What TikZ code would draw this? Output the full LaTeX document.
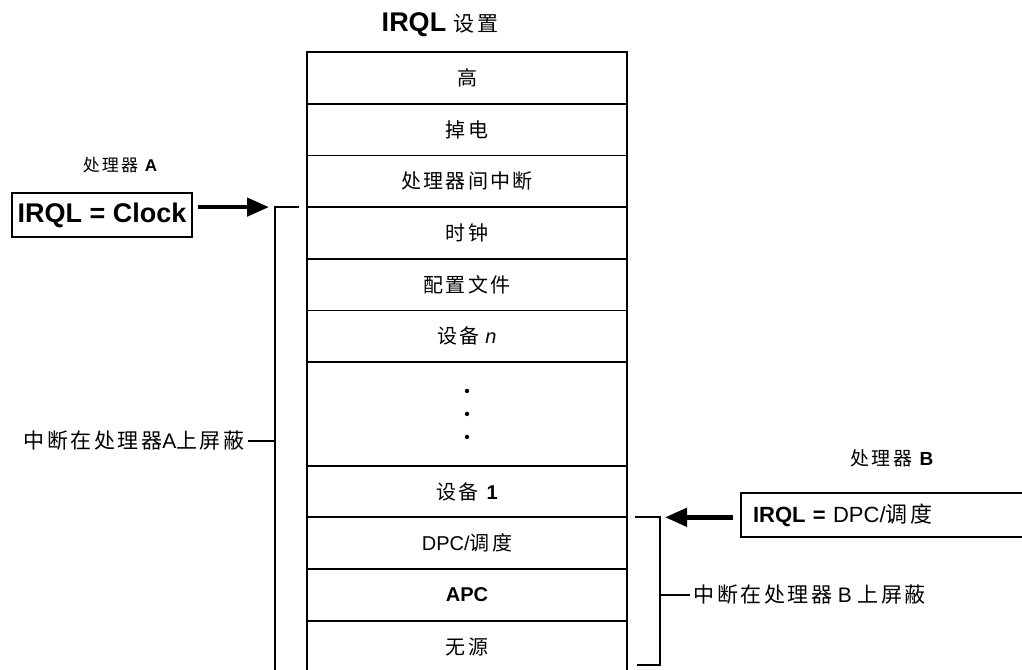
\documentclass[tikz,border=0pt]{standalone}
\usepackage{fontspec}
\setmainfont{Liberation Sans}
\newfontfamily\cjk[LetterSpace=12]{Noto Sans CJK SC}
\usetikzlibrary{arrows.meta, positioning}

\begin{document}
\begin{tikzpicture}[
    x=1pt, y=-1pt,
    level/.style={draw, line width=1.8pt, outer sep=0pt, minimum width=320pt, minimum height=51.7pt, inner sep=0pt, font=\fontsize{20}{24}\selectfont},
    irqlbox/.style={draw, line width=2pt, minimum height=44pt, inner sep=0pt},
    bigarrow/.style={-{Triangle[length=22pt, width=18pt]}, line width=4.5pt},
    bracket/.style={line width=2pt},
    note/.style={font=\fontsize{21}{24}\selectfont}
]
\path[use as bounding box, fill=white] (0,0) rectangle (1022,669);

%% IRQL levels
\node[font=\fontsize{27}{30}\selectfont] (title) at (440,25) {\textbf{IRQL} {\fontsize{21}{24}\selectfont\cjk 设置}};
\node[level, anchor=north] (high) at (467,52) {\cjk 高};
\node[level, below=0pt of high] (power) {\cjk 掉电};
\node[level, below=0pt of power] (ipi) {\cjk 处理器间中断};
\node[level, below=0pt of ipi] (clock) {\cjk 时钟};
\node[level, below=0pt of clock] (profile) {\cjk 配置文件};
\node[level, below=0pt of profile] (devn) {{\cjk 设备} \textit{n}};
\node[level, below=0pt of devn, minimum height=103.4pt] (gap) {};
\node[level, below=0pt of gap] (dev1) {{\cjk 设备} \textbf{1}};
\node[level, below=0pt of dev1] (dpc) {DPC/{\cjk 调度}};
\node[level, below=0pt of dpc] (apc) {\textbf{APC}};
\node[level, below=0pt of apc] (passive) {\cjk 无源};
\foreach \dy in {-23,0,23}
    \fill ([yshift=\dy pt]gap.center) circle (2.2pt);

%% Processor A
\node[note, font=\fontsize{17}{20}\selectfont] (procA) at (120,165) {{\cjk 处理器} \textbf{A}};
\node[irqlbox, minimum width=180pt, font=\fontsize{27}{30}\selectfont\bfseries] (boxA) at (102,215) {IRQL = Clock};
\coordinate (aTop) at ([xshift=-8pt]clock.north west);
\coordinate (aBot) at (275,675);
\draw[bracket] (aTop) -| (aBot);
\draw[bigarrow, shorten <=5pt, shorten >=30pt] (boxA.east |- aTop) -- (aTop);
\node[note, anchor=east] (maskA) at (248,441) {{\cjk 中断在处理器}A{\cjk 上屏蔽}};
\draw[bracket] (maskA.east) -- (maskA.east -| aBot);

%% Processor B
\node[note, font=\fontsize{19}{22}\selectfont] (procB) at (892,458) {{\cjk 处理器} \textbf{B}};
\node[irqlbox, anchor=west, minimum width=330pt, text width=306pt, align=left, font=\fontsize{22}{26}\selectfont] (boxB) at (740,515) {\textbf{IRQL =} DPC/{\cjk 调度}};
\coordinate (bTop) at ([xshift=8pt]dpc.north east);
\coordinate (bEdge) at ([xshift=33pt]dpc.north east);
\coordinate (bBot) at (637,665);
\draw[bracket] (bTop) -- (bEdge) |- (bBot);
\draw[bigarrow, shorten <=7pt, shorten >=30pt] (boxB.west |- bTop) -- (bTop);
\node[note, anchor=west] (maskB) at (690,595) {{\cjk 中断在处理器} B {\cjk 上屏蔽}};
\draw[bracket] (maskB.west) -- (maskB.west -| bEdge);

\end{tikzpicture}
\end{document}
